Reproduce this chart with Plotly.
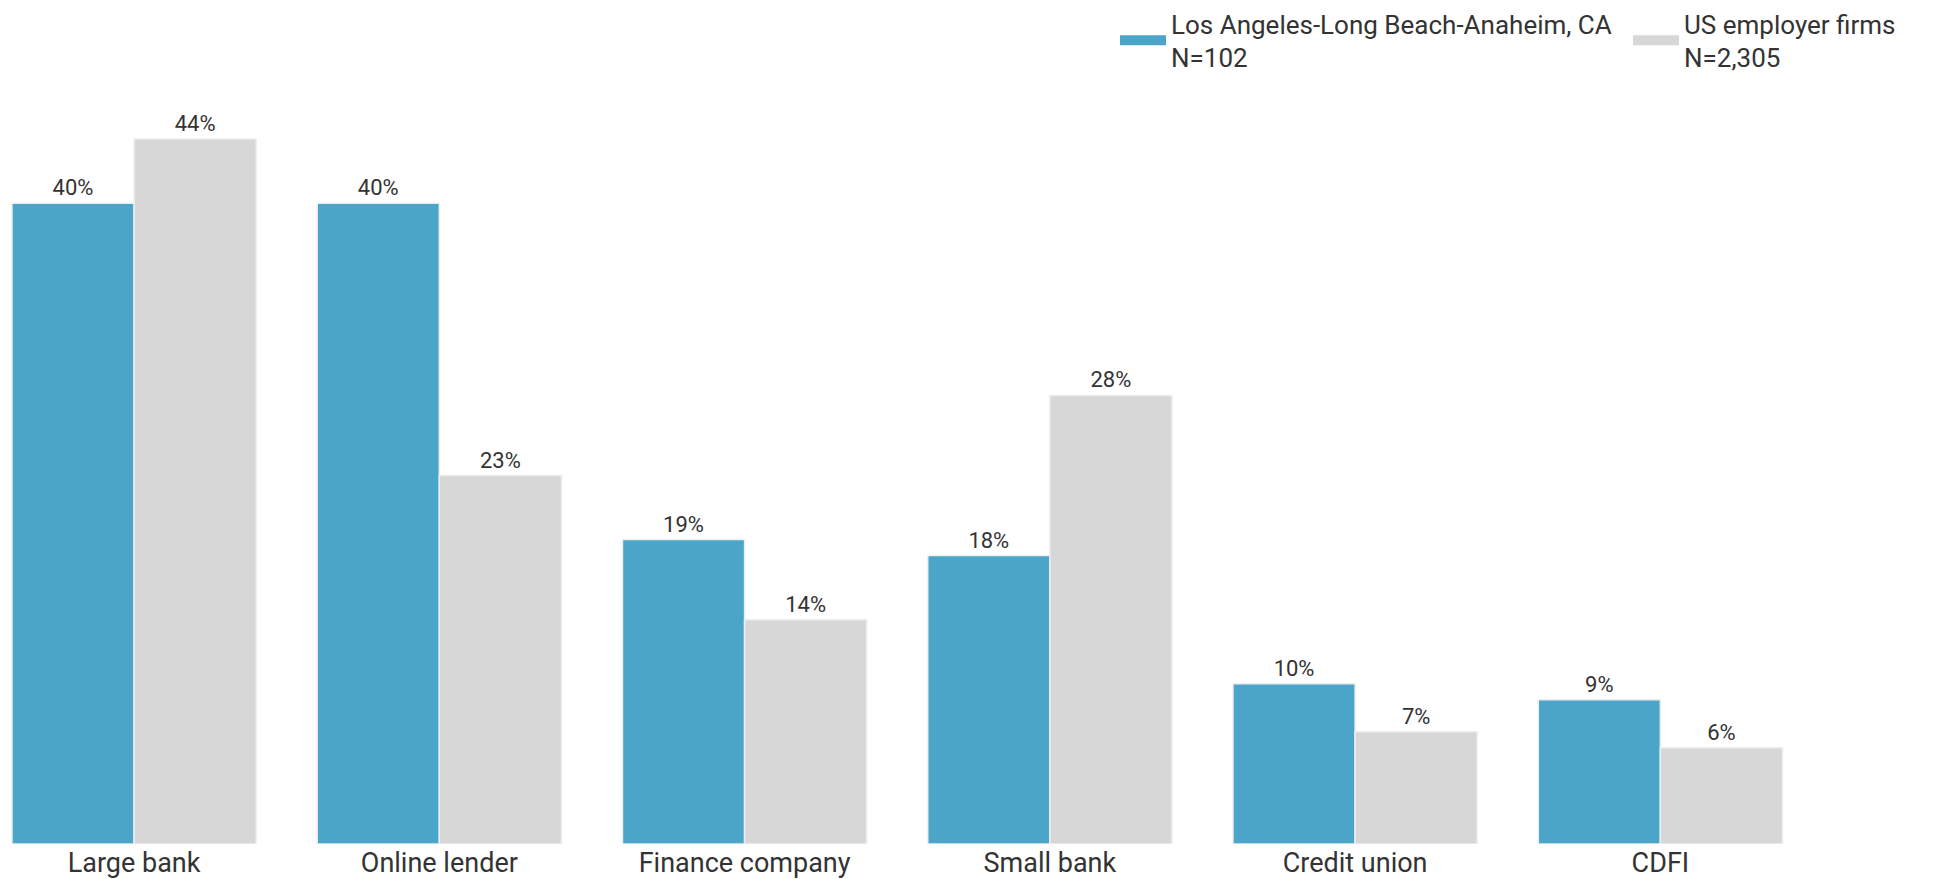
import plotly.graph_objects as go

categories = ["Large bank", "Online lender", "Finance company", "Small bank", "Credit union", "CDFI"]
la_values = [40, 40, 19, 18, 10, 9]
us_values = [44, 23, 14, 28, 7, 6]
la_name = "Los Angeles-Long Beach-Anaheim, CA<br>N=102"
us_name = "US employer firms<br>N=2,305"

BLUE = "#4BA5C9"
GRAY = "#D7D7D7"
FONT = "Roboto, 'Open Sans', Arial, sans-serif"

fig = go.Figure()
for vals, color in [(la_values, BLUE), (us_values, GRAY)]:
    fig.add_trace(go.Bar(
        x=categories, y=vals,
        marker=dict(color=color, line=dict(color="#eeeeee", width=1.5)),
        text=[f"{v}%" for v in vals], textposition="outside",
        textfont=dict(size=22, color="#333333", family=FONT),
        cliponaxis=False, showlegend=False,
    ))

# legend entries (wide swatches)
for name, color in [(la_name, BLUE), (us_name, GRAY)]:
    fig.add_trace(go.Scatter(
        x=[None], y=[None], mode="lines", name=name,
        line=dict(color=color, width=13),
    ))

fig.update_layout(
    width=1933, height=879,
    barmode="group", bargap=0.2, bargroupgap=0,
    plot_bgcolor="white", paper_bgcolor="white",
    margin=dict(l=0, r=128, t=99, b=42.5, autoexpand=False),
    font=dict(family=FONT, color="#333333"),
    xaxis=dict(range=[-0.413, 5.5], showgrid=False, showline=False, zeroline=False,
               ticks="", tickfont=dict(size=27, color="#333333")),
    yaxis=dict(range=[0, 46.0], visible=False),
    legend=dict(orientation="h", xref="container", yref="paper",
                x=1107 / 1933, xanchor="left", y=1 + 107 / 737.5, yanchor="top",
                itemwidth=46, entrywidth=452, entrywidthmode="pixels",
                font=dict(size=26, color="#333333"),
                bgcolor="rgba(0,0,0,0)"),
)

fig.write_html("out.html")
